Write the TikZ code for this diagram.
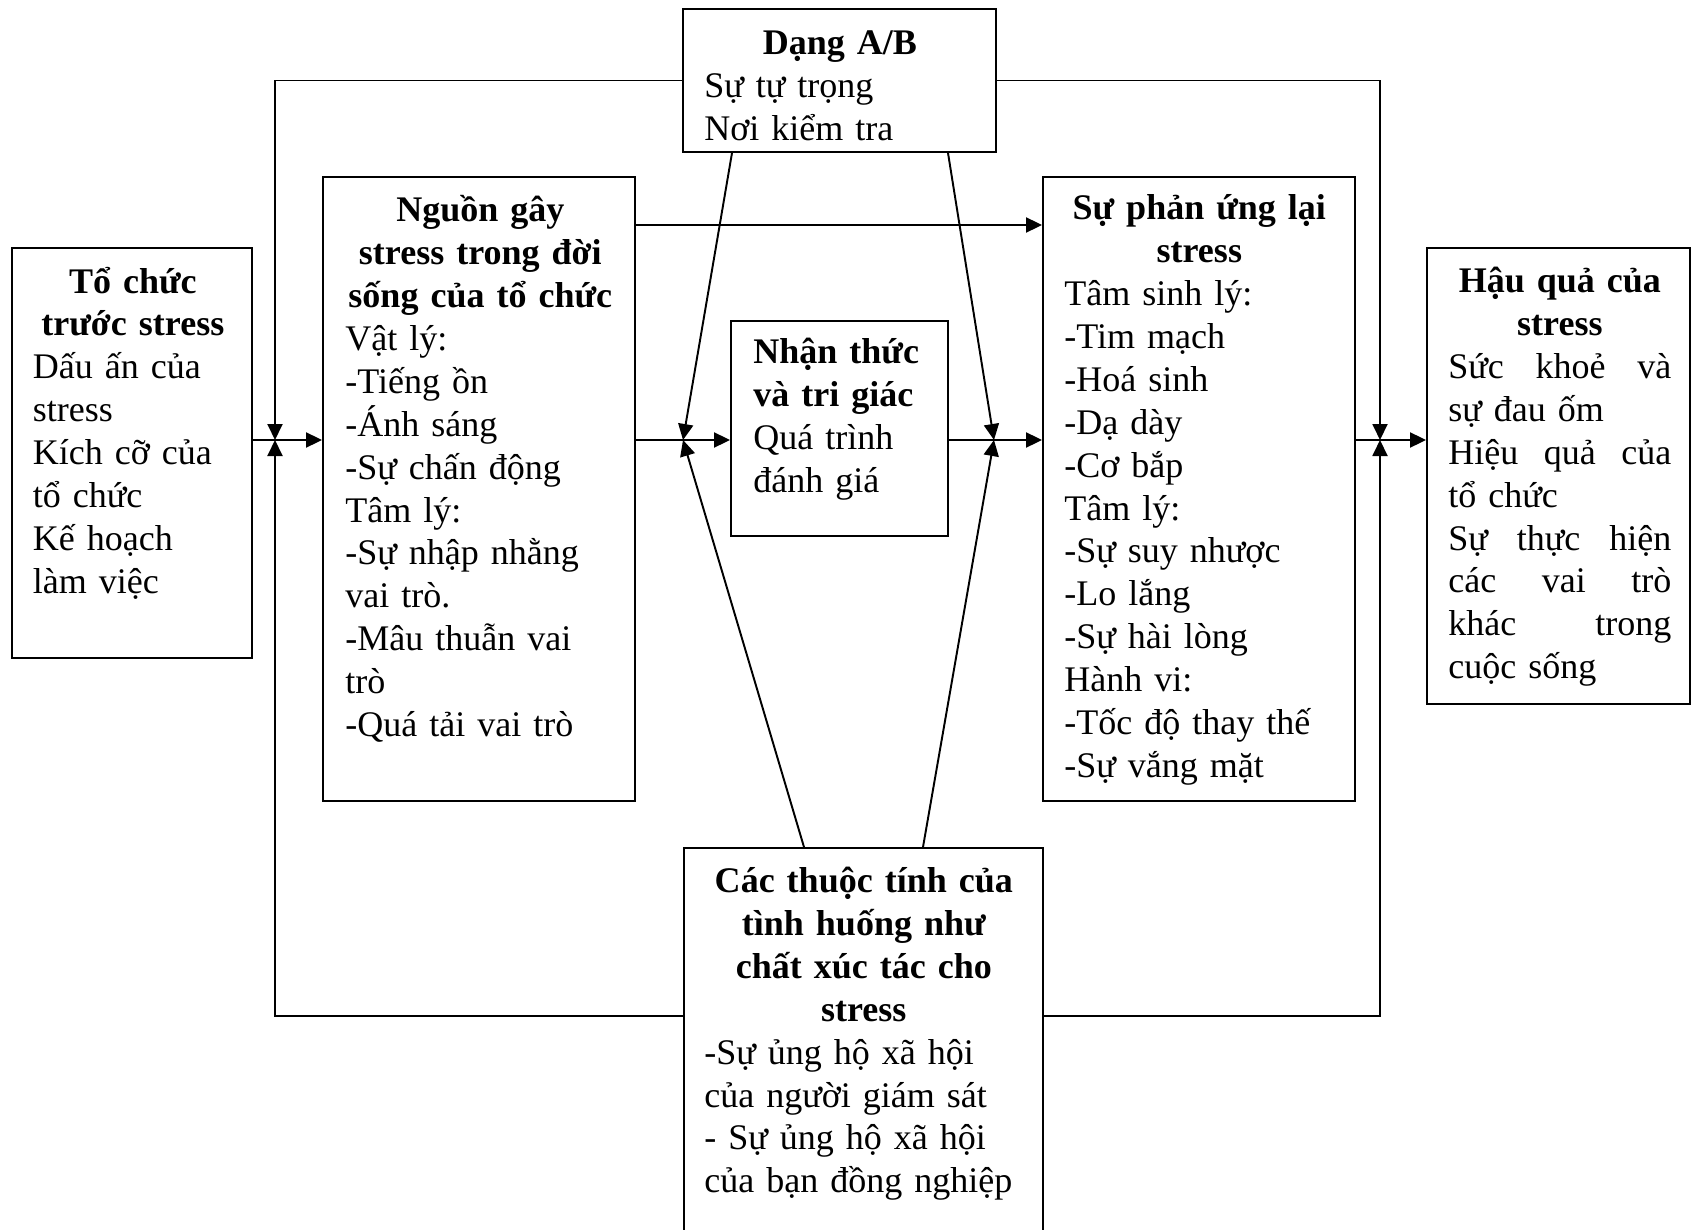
\documentclass[tikz,border=0pt]{standalone}
\usepackage{fontspec}
\setmainfont{Liberation Serif}
\usetikzlibrary{arrows.meta}
\newcommand\jline[1]{\leavevmode\hbox to\hsize{#1}}
\begin{document}
\begin{tikzpicture}[x=0.02cm,y=-0.02cm,
  box/.style={draw, line width=1.1pt, inner sep=0pt},
  txt/.style={anchor=west, inner sep=0pt, text width=#1,
    font=\fontsize{20.5}{24.4}\selectfont\setlength{\parindent}{0pt}},
  arr/.style={-{Triangle[length=0.32cm,width=0.3cm]}, line width=1.1pt}]
\fill[white] (0,0) rectangle (1701,1230);
\useasboundingbox (0,0) rectangle (1701,1230);

% boxes
\node[box, minimum width=4.8cm,  minimum height=8.2cm]  (L) at (132,453) {};
\node[box, minimum width=6.24cm, minimum height=12.48cm] (S) at (479,489) {};
\node[box, minimum width=6.26cm, minimum height=2.86cm] (T) at (839.5,80.5) {};
\node[box, minimum width=4.34cm, minimum height=4.3cm]  (P) at (839.5,428.5) {};
\node[box, minimum width=6.24cm, minimum height=12.48cm] (R) at (1199,489) {};
\node[box, minimum width=5.26cm, minimum height=9.12cm] (C) at (1558.5,476) {};
\node[box, minimum width=7.18cm, minimum height=7.94cm] (M) at (863.5,1046.5) {};

% texts
\node[txt=4cm] (tL) at (32.5,433) {{\centering\bfseries Tổ chức\\ trước stress\par}
  \raggedright Dấu ấn của\\ stress\\ Kích cỡ của\\ tổ chức\\ Kế hoạch\\ làm việc};
\node[txt=5.4cm] (tS) at (345,469) {{\centering\bfseries Nguồn gây\\ stress trong đời\\ sống của tổ chức\par}
  \raggedright Vật lý:\\ -Tiếng ồn\\ -Ánh sáng\\ -Sự chấn động\\ Tâm lý:\\ -Sự nhập nhằng\\ vai trò.\\ -Mâu thuẫn vai\\ trò\\ -Quá tải vai trò};
\node[txt=5.42cm] (tT) at (704,86) {{\centering\bfseries Dạng A/B\par}
  \raggedright Sự tự trọng\\ Nơi kiểm tra};
\node[txt=3.44cm] (tP) at (753,419) {\raggedright{\bfseries Nhận thức\\ và tri giác\\}
  Quá trình\\ đánh giá};
\node[txt=5.4cm] (tR) at (1064,490) {{\centering\bfseries Sự phản ứng lại\\ stress\par}
  \raggedright Tâm sinh lý:\\ -Tim mạch\\ -Hoá sinh\\ -Dạ dày\\ -Cơ bắp\\ Tâm lý:\\ -Sự suy nhược\\ -Lo lắng\\ -Sự hài lòng\\ Hành vi:\\ -Tốc độ thay thế\\ -Sự vắng mặt};
\node[txt=4.46cm] (tC) at (1448,477) {{\centering\bfseries Hậu quả của\\ stress\par}
  \raggedright\jline{Sức\hfill khoẻ\hfill và}\\ sự đau ốm\\ \jline{Hiệu\hfill quả\hfill của}\\ tổ chức\\ \jline{Sự\hfill thực\hfill hiện}\\ \jline{các\hfill vai\hfill trò}\\ \jline{khác\hfill trong}\\ cuộc sống};
\node[txt=6.38cm] (tM) at (704,1034) {{\centering\bfseries Các thuộc tính của\\ tình huống như\\ chất xúc tác cho\\ stress\par}
  \raggedright -Sự ủng hộ xã hội\\ của người giám sát\\ - Sự ủng hộ xã hội\\ của bạn đồng nghiệp};

% helper coordinates
\coordinate (jL) at (275,440);
\coordinate (jC) at (683,440);
\coordinate (jR) at (994,440);
\coordinate (jK) at (1380,440);
\coordinate (yTop) at (0,225);
\coordinate (fb) at (0,1016);
\coordinate (d1) at (732,0);
\coordinate (d2) at (948,0);
\coordinate (d3) at (804,0);
\coordinate (d4) at (923,0);

% connectors
\draw[arr] (L.east |- jL) -- (S.west |- jL);
\draw[arr] (T.west) -| (jL);
\draw[arr] (M.west |- fb) -| (jL);
\draw[arr] (T.east) -| (jK);
\draw[arr] (M.east |- fb) -| (jK);
\draw[arr] (S.east |- yTop) -- (R.west |- yTop);
\draw[arr] (S.east |- jC) -- (P.west |- jC);
\draw[arr] (P.east |- jR) -- (R.west |- jR);
\draw[arr] (R.east |- jK) -- (C.west |- jK);
\draw[arr] (T.south -| d1) -- (jC);
\draw[arr] (M.north -| d3) -- (jC);
\draw[arr] (T.south -| d2) -- (jR);
\draw[arr] (M.north -| d4) -- (jR);
\end{tikzpicture}
\end{document}
